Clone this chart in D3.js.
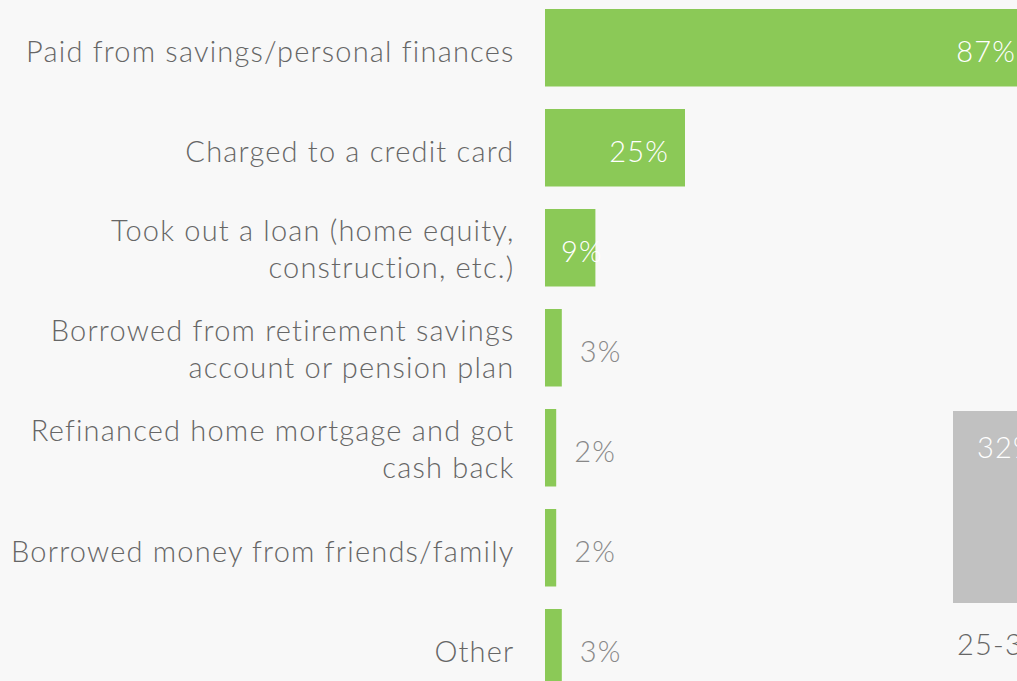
<!DOCTYPE html>
<html>
<head>
<meta charset="utf-8">
<script src="https://cdn.jsdelivr.net/npm/d3@7"></script>
<style>
  html, body { margin: 0; padding: 0; background: #f8f8f8; overflow: hidden; }
  text { font-family: Lato, "Open Sans", sans-serif; font-weight: 300; letter-spacing: 1.2px; }
</style>
</head>
<body>
<div id="chart"></div>
<script>
// funding sources (percent of respondents)
var categories = [
  ["Paid from savings/personal finances"],
  ["Charged to a credit card"],
  ["Took out a loan (home equity,", "construction, etc.)"],
  ["Borrowed from retirement savings", "account or pension plan"],
  ["Refinanced home mortgage and got", "cash back"],
  ["Borrowed money from friends/family"],
  ["Other"]
];
var values = [87, 25, 9, 3, 2, 2, 3];

// neighbouring chart, only its first column is visible
var ageGroups = ["25-34"];
var ageValues = [32];

var width = 1017, height = 681;

var svg = d3.select("#chart")
  .append("svg")
  .attr("width", width)
  .attr("height", height)
  .style("display", "block");

var data = categories.map(function(c, i) { return {lines: c, key: c.join(" "), value: values[i]}; });

// y band for the rows
var y = d3.scaleBand()
  .domain(data.map(function(d) { return d.key; }))
  .range([9, 686.5])
  .paddingInner(0.225)
  .paddingOuter(0);

// x scale for bar lengths
var x = d3.scaleLinear()
  .domain([0, 100])
  .range([545, 1105]);

var rows = svg.selectAll(".row")
  .data(data)
  .enter()
  .append("g")
  .attr("class", "row");

rows.append("rect")
  .attr("x", x(0))
  .attr("y", function(d) { return y(d.key); })
  .attr("width", function(d) { return x(d.value) - x(0); })
  .attr("height", y.bandwidth())
  .style("fill", "#8bc957");

// category labels, right aligned
var labelX = 514.5;
rows.append("text")
  .attr("text-anchor", "end")
  .style("font-size", "29px")
  .style("fill", "#666")
  .each(function(d) {
    var mid = y(d.key) + y.bandwidth() / 2;
    var t = d3.select(this);
    if (d.lines.length == 1) {
      t.append("tspan").attr("x", labelX).attr("y", mid + 14.5).text(d.lines[0]);
    } else {
      t.append("tspan").attr("x", labelX).attr("y", mid - 7).text(d.lines[0]);
      t.append("tspan").attr("x", labelX).attr("y", mid + 30).text(d.lines[1]);
    }
  });

// value labels
rows.append("text")
  .style("font-size", "29px")
  .attr("y", function(d) { return y(d.key) + y.bandwidth() / 2 + 14.5; })
  .attr("x", function(d) {
    var w = x(d.value) - x(0);
    if (w > 100) return x(d.value) - 16;
    if (w > 30) return x(0) + 16;
    return x(d.value) + 18;
  })
  .attr("text-anchor", function(d) { return (x(d.value) - x(0)) > 100 ? "end" : "start"; })
  .style("fill", function(d) { return (x(d.value) - x(0)) > 30 ? "#fff" : "#888"; })
  .text(function(d) { return d.value + "%"; });

// second chart: vertical bars by age
var xa = d3.scaleBand()
  .domain(ageGroups)
  .range([953, 1061])
  .padding(0);

var ya = d3.scaleLinear()
  .domain([0, 100])
  .range([603, 3]);

var cols = svg.selectAll(".col")
  .data(ageGroups)
  .enter()
  .append("g")
  .attr("class", "col");

cols.append("rect")
  .attr("x", function(d) { return xa(d); })
  .attr("y", function(d, i) { return ya(ageValues[i]); })
  .attr("width", xa.bandwidth())
  .attr("height", function(d, i) { return ya(0) - ya(ageValues[i]); })
  .style("fill", "#c1c1c1");

cols.append("text")
  .attr("x", function(d) { return xa(d) + 24; })
  .attr("y", function(d, i) { return ya(ageValues[i]) + 47; })
  .style("font-size", "29px")
  .style("fill", "#fff")
  .text(function(d, i) { return ageValues[i] + "%"; });

cols.append("text")
  .attr("x", function(d) { return xa(d) + 4; })
  .attr("y", 655)
  .style("font-size", "29px")
  .style("fill", "#666")
  .text(function(d) { return d; });
</script>
</body>
</html>
